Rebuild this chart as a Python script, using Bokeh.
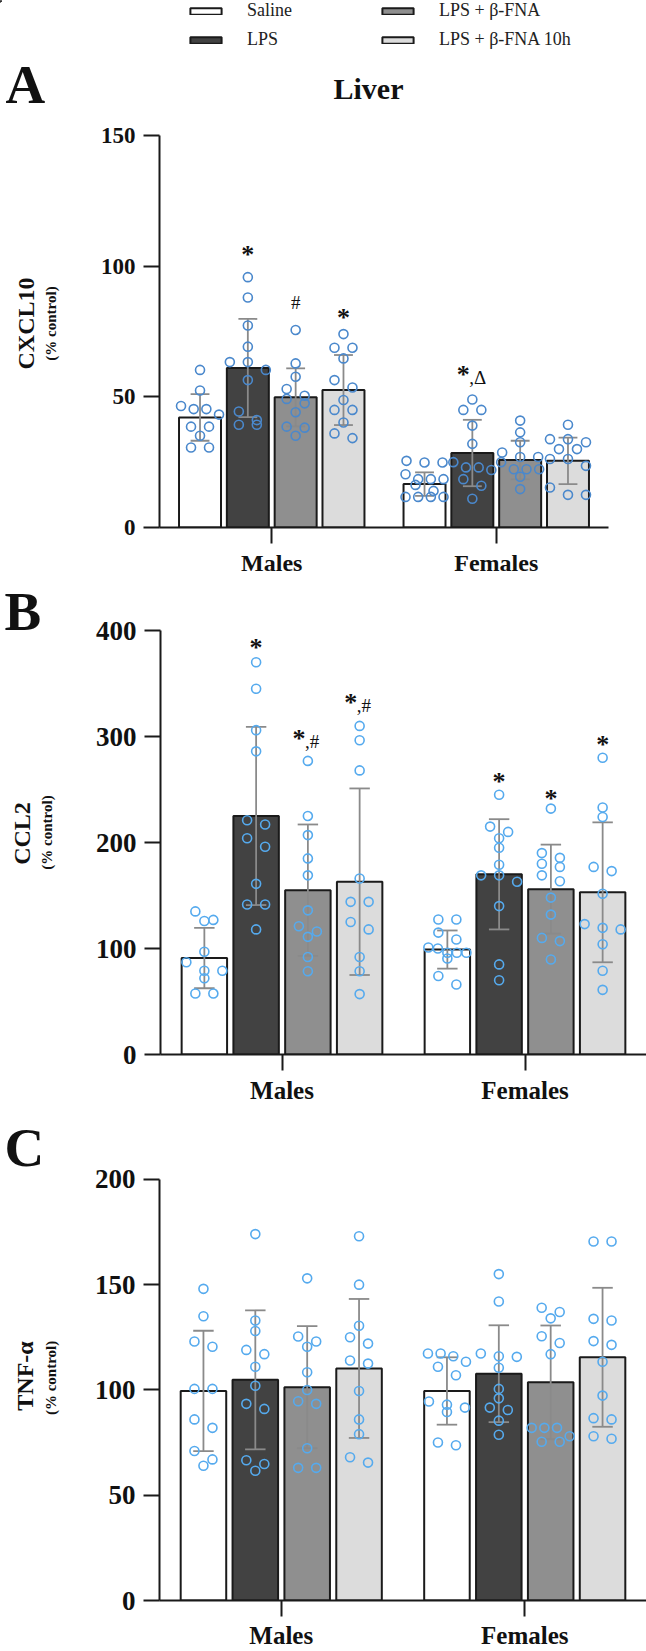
import numpy as np
from bokeh.plotting import figure
from bokeh.models import FactorRange, Range1d, FixedTicker, Legend, LegendItem
from bokeh.layouts import column, row
from bokeh.embed import file_html
from bokeh.resources import INLINE
from bokeh.core.properties import value

FONT = "Liberation Serif"

# ---------------- data ----------------
groups = ["Males", "Females"]
treatments = ["Saline", "LPS", "LPS + β-FNA", "LPS + β-FNA 10h"]
bar_fill = ["#ffffff", "#424242", "#8f8f8f", "#dcdcdc"]

# Panel A: CXCL10 (Liver)
cxcl10_mean_males = [42.1, 61.0, 49.8, 52.6]
cxcl10_mean_females = [16.6, 28.5, 25.8, 25.5]
cxcl10_sd_males = [8.9, 18.8, 11.1, 13.4]
cxcl10_sd_females = [4.5, 12.7, 7.4, 8.9]
cxcl10_pts_males = [
    [60.3, 52.4, 46.5, 45.3, 45.3, 43.2, 38.6, 38.6, 35.1, 30.6, 30.6],
    [95.8, 88.0, 77.3, 69.2, 63.3, 63.3, 60.3, 56.4, 44.4, 41.1, 39.3, 39.3],
    [75.6, 62.8, 57.7, 53.0, 50.4, 49.2, 47.5, 44.1, 38.6, 38.2, 35.1],
    [74.0, 68.8, 68.8, 64.7, 56.4, 53.6, 48.8, 45.0, 45.0, 40.2, 36.0, 34.2],
]
cxcl10_pts_females = [
    [25.5, 24.9, 24.9, 20.4, 18.5, 18.5, 18.5, 16.3, 14.0, 11.7, 11.7, 11.7, 11.7],
    [49.0, 45.0, 45.0, 39.0, 32.0, 25.0, 23.0, 23.0, 22.0, 18.5, 16.0, 11.0],
    [40.9, 36.4, 32.6, 28.7, 27.0, 27.0, 25.0, 22.3, 22.3, 22.3, 19.4, 14.7],
    [39.3, 33.8, 33.8, 32.6, 30.0, 30.0, 26.2, 26.2, 23.6, 15.3, 12.5, 12.5],
]
cxcl10_annot = [("Males", "LPS", "*", 106), ("Males", "LPS + β-FNA", "#", 86),
                ("Males", "LPS + β-FNA 10h", "*", 82), ("Females", "LPS", "*,Δ", 60)]

# Panel B: CCL2
ccl2_mean_males = [91, 225, 155, 163]
ccl2_mean_females = [99, 170, 156, 153]
ccl2_sd_males = [28.5, 84, 62, 88]
ccl2_sd_females = [18, 52, 42, 66]
ccl2_pts_males = [
    [135, 127, 126, 97, 87, 79, 79, 72, 57.5, 57.5],
    [370, 345, 306, 286, 221, 217, 204, 196, 161, 141.5, 141.5, 118],
    [277, 225, 207, 185, 169, 136, 121, 116, 111, 92, 78.6],
    [310, 296.5, 268, 166, 144, 144, 125, 118, 92, 78.6, 57],
]
ccl2_pts_females = [
    [127.4, 127.4, 115, 108.5, 101, 100, 96, 96, 96, 90.6, 74, 66],
    [245, 215, 210, 204, 195, 179, 169, 169, 163, 140, 85, 70],
    [232, 190, 185.5, 180, 177, 169, 163.5, 148, 132, 110, 107, 89.6],
    [280, 233, 224, 177, 173, 151.6, 123, 119.5, 118, 104, 79, 61],
]
ccl2_annot = [("Males", "LPS", "*", 388), ("Males", "LPS + β-FNA", "*,#", 302),
              ("Males", "LPS + β-FNA 10h", "*,#", 336), ("Females", "LPS", "*", 261),
              ("Females", "LPS + β-FNA", "*", 245), ("Females", "LPS + β-FNA 10h", "*", 296)]

# Panel C: TNF-alpha
tnf_mean_males = [99.5, 104.8, 101.3, 110.2]
tnf_mean_females = [99.5, 107.7, 103.6, 115.5]
tnf_sd_males = [28.6, 33, 29, 33]
tnf_sd_females = [16, 23, 27, 33]
tnf_pts_males = [
    [148, 135, 123, 120.5, 100.5, 100.5, 86, 82, 71, 67, 64],
    [174, 133, 128, 119, 117, 111, 102, 93.4, 91, 66.6, 64.8, 61.6],
    [153, 125.4, 123, 120.5, 108.4, 100, 94.6, 93.4, 72.3, 63, 63],
    [173, 150, 130.5, 125, 122, 114, 112.5, 99.5, 86, 79, 68, 65.5],
]
tnf_pts_females = [
    [117.3, 117.3, 116, 113.4, 111, 107, 94.5, 93, 91.6, 89.5, 75, 73.75],
    [155, 142, 117.3, 116, 115.7, 110.5, 100.5, 96, 91.6, 90.5, 85.4, 78.75],
    [139, 137, 134, 125.5, 122.3, 117, 82, 82, 82, 78, 75.4, 75.4],
    [170.5, 170.5, 133.75, 133, 123.2, 121.4, 113.4, 97.3, 86.6, 86, 78, 76.8],
]
tnf_annot = []

BAR_STEP = 0.213
BAR_W = 0.187
TOTAL_W = 646
LEFT_W = 65


def beeswarm(vals, ppu_y, ppu_x, step_px=18.0, thresh=9.0, maxrow=38.0):
    order = sorted(range(len(vals)), key=lambda i: -vals[i])
    offs = [0.0] * len(vals)
    clusters, cur = [], []
    for i in order:
        if cur and (vals[cur[0]] - vals[i]) * ppu_y >= thresh:
            clusters.append(cur)
            cur = []
        cur.append(i)
    if cur:
        clusters.append(cur)
    for c in clusters:
        n = len(c)
        if n == 1:
            continue
        step = min(step_px, maxrow / (n - 1))
        for k, i in enumerate(c):
            offs[i] = (k - (n - 1) / 2) * step / ppu_x
    return offs


def bar_x(g, t):
    return groups.index(g) + 0.5 + (treatments.index(t) - 1.5) * BAR_STEP


def blank(w, h, ytop=None, ybot=None, border_bottom=0):
    # y range in page pixels, increasing downward
    if ytop is None:
        yr = Range1d(h, 0)
    else:
        yr = Range1d(ybot, ytop)
    f = figure(width=w, height=h, x_range=Range1d(0, w), y_range=yr,
               output_backend="svg", toolbar_location=None, min_border=0,
               min_border_bottom=border_bottom,
               x_axis_location=None, y_axis_location=None)
    f.outline_line_color = None
    f.xgrid.visible = False
    f.ygrid.visible = False
    f.background_fill_color = "white"
    f.border_fill_color = "white"
    return f


def put_text(f, x, y, text, size, angle=0.0, align="left", baseline="middle", bold=True):
    f.text(x=[x], y=[y], text=[text], angle=angle, text_align=align,
           text_baseline=baseline, text_font=value(FONT), text_font_size=size,
           text_font_style="bold" if bold else "normal", text_color="#111")


def make_panel(means, sds, pts, ymax, yticks, annots, lay, pt_color,
               tick_size, cat_size):
    # lay: row_top, frame_top, frame_bottom, row_bottom (page px), left/right borders
    height = lay["row_bottom"] - lay["row_top"]
    bottom = lay["row_bottom"] - lay["frame_bottom"]
    fh_axis = lay["frame_bottom"] - lay["frame_top"]
    fh = lay["frame_bottom"] - lay["row_top"]
    ppu_y = fh_axis / ymax
    yend = fh / ppu_y
    width = TOTAL_W - LEFT_W
    fw = width - lay["left"] - lay["right"]
    p = figure(width=width, height=height,
               x_range=FactorRange(factors=groups, range_padding=0),
               y_range=Range1d(0, yend), output_backend="svg",
               toolbar_location=None,
               min_border_left=lay["left"], min_border_right=lay["right"],
               min_border_top=0, min_border_bottom=bottom)
    p.outline_line_color = None
    p.xgrid.visible = False
    p.ygrid.visible = False
    p.background_fill_color = "white"
    p.border_fill_color = "white"

    ppu_x = fw / 2.0
    for ti, t in enumerate(treatments):
        xs = [bar_x(g, t) for g in groups]
        tops = [means[gi][ti] for gi in range(2)]
        p.vbar(x=xs, top=tops, bottom=0, width=BAR_W, fill_color=bar_fill[ti],
               line_color="#1a1a1a", line_width=2)
    # error bars (mean +/- SD)
    ex, elo, ehi = [], [], []
    for gi, g in enumerate(groups):
        for ti, t in enumerate(treatments):
            ex.append(bar_x(g, t))
            elo.append(means[gi][ti] - sds[gi][ti])
            ehi.append(means[gi][ti] + sds[gi][ti])
    cap = 0.042
    ecol = "#8a8a8a"
    p.segment(x0=ex, y0=elo, x1=ex, y1=ehi, line_color=ecol, line_width=1.8)
    p.segment(x0=[x - cap for x in ex], y0=ehi, x1=[x + cap for x in ex], y1=ehi,
              line_color=ecol, line_width=1.8)
    p.segment(x0=[x - cap for x in ex], y0=elo, x1=[x + cap for x in ex], y1=elo,
              line_color=ecol, line_width=1.8)
    # individual points
    px, py = [], []
    for gi, g in enumerate(groups):
        for ti, t in enumerate(treatments):
            vals = pts[gi][ti]
            offs = beeswarm(vals, ppu_y, ppu_x)
            px += [bar_x(g, t) + o for o in offs]
            py += list(vals)
    p.scatter(x=px, y=py, marker="circle", size=9, fill_color=None,
              line_color=pt_color, line_width=1.6)
    # significance marks
    for g, t, lab, yv in annots:
        x = bar_x(g, t)
        if lab.startswith("*"):
            rest = lab[1:]
            p.text(x=[x], y=[yv], text=["*"], x_offset=-9 if rest else 0, y_offset=4,
                   text_align="center", text_baseline="middle",
                   text_font=value(FONT), text_font_style="bold",
                   text_font_size="26px", text_color="#111")
            if rest:
                p.text(x=[x], y=[yv], text=[rest], x_offset=-3, y_offset=7,
                       text_align="left", text_baseline="middle",
                       text_font=value(FONT), text_font_size="19px",
                       text_color="#111")
        else:
            p.text(x=[x], y=[yv], text=[lab], y_offset=0,
                   text_align="center", text_baseline="middle",
                   text_font=value(FONT), text_font_size="19px", text_color="#111")

    # axes
    for ax in (p.xaxis[0], p.yaxis[0]):
        ax.axis_line_color = "#1a1a1a"
        ax.axis_line_width = 2
        ax.major_tick_line_color = "#1a1a1a"
        ax.major_tick_line_width = 2
        ax.major_tick_in = 0
        ax.minor_tick_line_color = None
        ax.major_label_text_font = FONT
        ax.major_label_text_font_style = "bold"
        ax.major_label_text_color = "#111"
    p.yaxis[0].ticker = FixedTicker(ticks=yticks)
    p.yaxis[0].bounds = (0, ymax)
    p.yaxis[0].major_tick_out = 16
    p.yaxis[0].major_label_standoff = 8
    p.yaxis[0].major_label_text_font_size = tick_size
    p.xaxis[0].major_tick_out = 16
    p.xaxis[0].major_label_standoff = lay.get("xstand", 6)
    p.xaxis[0].major_label_text_font_size = cat_size

    left = blank(LEFT_W, height, ytop=lay["row_top"], ybot=lay["frame_bottom"],
                 border_bottom=bottom)
    return p, left


# ---------------- header: legend, letter A, title ----------------
HEAD_H = 118
head = blank(TOTAL_W, HEAD_H)
# legend proxies (a single datum outside the visible range, so only the legend shows them)
leg_r = [head.vbar(x=[-500], top=[1], width=1, fill_color=bar_fill[i],
                   line_color="#1a1a1a", line_width=2) for i in range(4)]
leg_kw = dict(orientation="vertical", glyph_width=39, glyph_height=8, label_standoff=22,
              spacing=8, padding=0, margin=0, label_height=20,
              border_line_alpha=0, background_fill_alpha=0,
              label_text_font=FONT, label_text_font_size="18px", label_text_color="#222")
head.add_layout(Legend(items=[LegendItem(label=treatments[0], renderers=[leg_r[0]]),
                              LegendItem(label=treatments[1], renderers=[leg_r[1]])],
                       location=(186, HEAD_H - 50), **leg_kw))
head.add_layout(Legend(items=[LegendItem(label=treatments[2], renderers=[leg_r[2]]),
                              LegendItem(label=treatments[3], renderers=[leg_r[3]])],
                       location=(378, HEAD_H - 50), **leg_kw))
put_text(head, 5, 84, "A", "55px")
put_text(head, 368, 88, "Liver", "30px", align="center")

# ---------------- panel A ----------------
layA = dict(row_top=118, frame_top=135, frame_bottom=527, row_bottom=580,
            left=94, right=38)
pA, leftA = make_panel([cxcl10_mean_males, cxcl10_mean_females],
                       [cxcl10_sd_males, cxcl10_sd_females],
                       [cxcl10_pts_males, cxcl10_pts_females],
                       150, [0, 50, 100, 150], cxcl10_annot, layA,
                       "#4a88cc", "23px", "24px")
put_text(leftA, 25, 323, "CXCL10", "24px", angle=np.pi / 2, align="center")
put_text(leftA, 50, 323, "(% control)", "15px", angle=np.pi / 2, align="center")

# ---------------- panel B ----------------
layB = dict(row_top=580, frame_top=630, frame_bottom=1054, row_bottom=1110,
            left=95, right=0)
pB, leftB = make_panel([ccl2_mean_males, ccl2_mean_females],
                       [ccl2_sd_males, ccl2_sd_females],
                       [ccl2_pts_males, ccl2_pts_females],
                       400, [0, 100, 200, 300, 400], ccl2_annot, layB,
                       "#55aaee", "27px", "25px")
put_text(leftB, 4, 611, "B", "55px")
put_text(leftB, 21, 833, "CCL2", "24px", angle=np.pi / 2, align="center")
put_text(leftB, 46, 832, "(% control)", "15px", angle=np.pi / 2, align="center")

# ---------------- panel C ----------------
layC = dict(row_top=1110, frame_top=1179, frame_bottom=1601, row_bottom=1651,
            left=94, right=0, xstand=5)
pC, leftC = make_panel([tnf_mean_males, tnf_mean_females],
                       [tnf_sd_males, tnf_sd_females],
                       [tnf_pts_males, tnf_pts_females],
                       200, [0, 50, 100, 150, 200], tnf_annot, layC,
                       "#55aaee", "27px", "25px")
put_text(leftC, 4, 1147, "C", "55px")
put_text(leftC, 24, 1376, "TNF-α", "24px", angle=np.pi / 2, align="center")
put_text(leftC, 50, 1378, "(% control)", "15px", angle=np.pi / 2, align="center")

layout = column(head, row(leftA, pA), row(leftB, pB), row(leftC, pC))
open("out.html", "w").write(file_html(layout, INLINE))
